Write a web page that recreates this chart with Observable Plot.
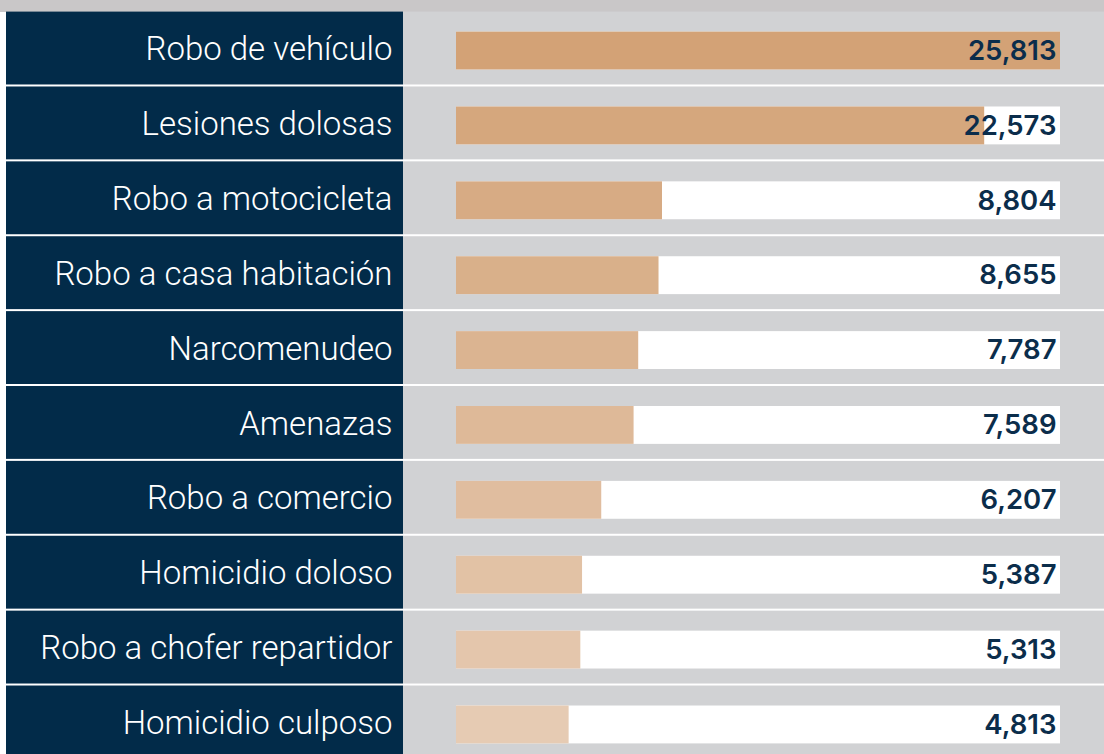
<!DOCTYPE html>
<html><head><meta charset="utf-8">
<script src="https://cdn.jsdelivr.net/npm/d3@7"></script>
<script src="https://cdn.jsdelivr.net/npm/@observablehq/plot@0.6"></script>
<style>html,body{margin:0;padding:0;background:#fff;overflow:hidden}svg{display:block}</style>
</head><body><div id="chart"></div>
<script>
const categories = [
  "Robo de vehículo",
  "Lesiones dolosas",
  "Robo a motocicleta",
  "Robo a casa habitación",
  "Narcomenudeo",
  "Amenazas",
  "Robo a comercio",
  "Homicidio doloso",
  "Robo a chofer repartidor",
  "Homicidio culposo"
];
const values = [25813, 22573, 8804, 8655, 7787, 7589, 6207, 5387, 5313, 4813];

const rows = categories.map((c, i) => ({category: c, value: values[i], rank: i}));
const maxV = d3.max(values);
const W = 1104, H = 754;
const xRange = [456, 1060];
const xs = d3.scaleLinear().domain([0, maxV]).range(xRange);
const fmt = d3.format(",");

const chart = Plot.plot({
  width: W, height: H,
  marginTop: 0, marginRight: 0, marginBottom: 0, marginLeft: 0,
  style: {background: "linear-gradient(#c9c7c8 0 12px, #ffffff 12px)", overflow: "hidden"},
  x: {domain: [0, maxV], range: xRange, axis: null},
  y: {domain: categories, range: [10.6, 759.4], padding: 0, round: false, axis: null},
  color: {type: "linear", domain: [0, categories.length - 1], range: ["#d3a276", "#e6cbb3"]},
  marks: [
    Plot.barX(rows, {y: "category", x1: () => xs.invert(6), x2: () => xs.invert(403), fill: "#022b49", insetTop: 1, insetBottom: 1}),
    Plot.barX(rows, {y: "category", x1: () => xs.invert(403), x2: () => xs.invert(W + 5), fill: "#d1d2d4", insetTop: 1, insetBottom: 1}),
    Plot.barX(rows, {y: "category", x1: () => 0, x2: () => maxV, fill: "#ffffff", insetTop: 21, insetBottom: 16}),
    Plot.barX(rows, {y: "category", x1: () => 0, x2: "value", fill: "rank", insetTop: 21, insetBottom: 16}),
    Plot.text(rows, {y: "category", frameAnchor: "left", dx: 392, dy: 1, textAnchor: "end", text: "category",
      fill: "#ffffff", fontSize: 33, fontWeight: 300, fontFamily: "Roboto, 'Liberation Sans', sans-serif"}),
    Plot.text(rows, {y: "category", x: () => maxV, dx: -4, dy: 2.5, textAnchor: "end", text: d => fmt(d.value),
      fill: "#0b2d4b", fontSize: 27.5, fontWeight: 600, fontFamily: "Inter, 'DejaVu Sans', sans-serif"})
  ]
});
document.getElementById("chart").appendChild(chart);
</script>
</body></html>
